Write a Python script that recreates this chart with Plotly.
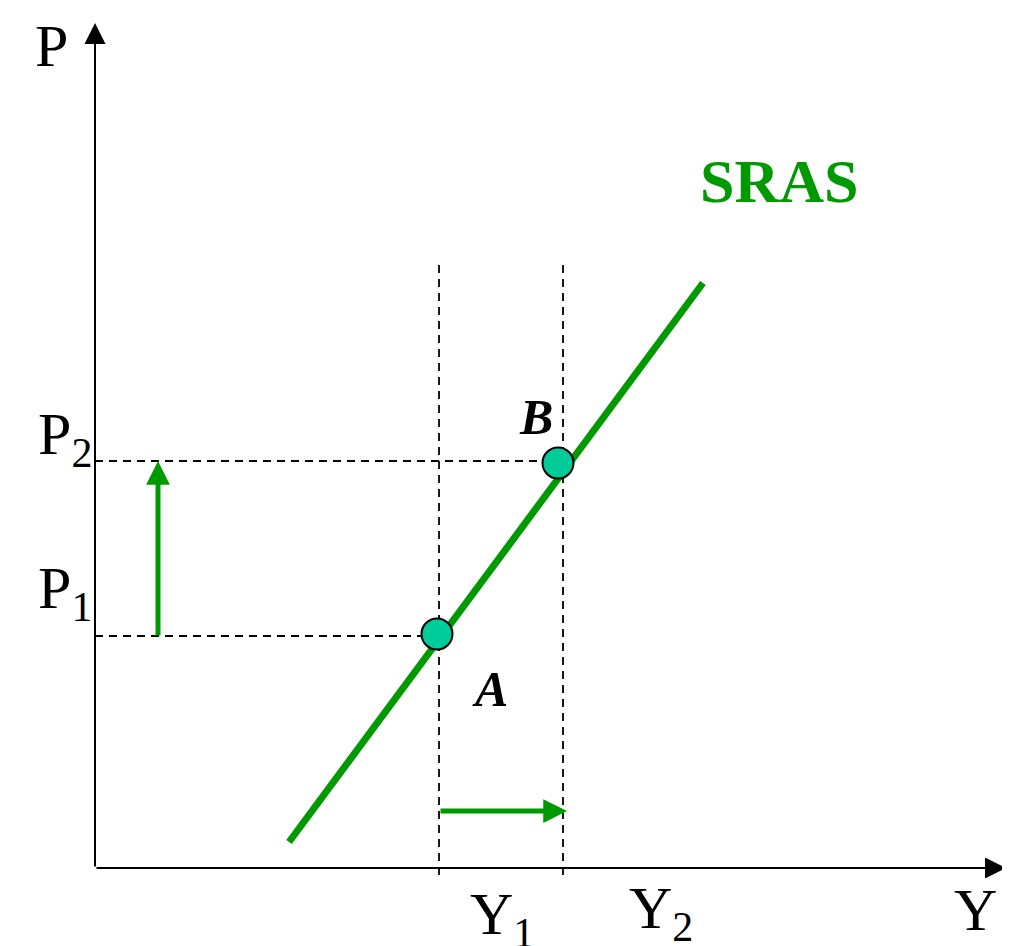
import plotly.graph_objects as go

# values in chart units (origin = where the axes meet)
y_levels = [3.44, 4.68]          # Y1, Y2
p_levels = [2.32, 4.07]          # P1, P2
point_x = [3.42, 4.63]           # A, B
point_y = [2.34, 4.05]
point_names = ["A", "B"]
sras_x = [1.94, 6.08]
sras_y = [0.26, 5.85]
guide_top = 6.08
guide_bottom = -0.07
shift_p = [2.31, 4.07]           # arrow from P1 up to P2
shift_p_x = 0.63
shift_y = [3.44, 4.72]           # arrow from Y1 to Y2
shift_y_level = 0.57
x_axis_end = 9.11
y_axis_end = 8.45

GREEN = "#009900"
DOT = "#00CC99"
SERIF = "Liberation Serif, Times New Roman, serif"

fig = go.Figure()

# dashed guides
for x in y_levels:
    fig.add_trace(go.Scatter(x=[x, x], y=[guide_bottom, guide_top], mode="lines",
                             line=dict(color="black", width=1.8, dash="8px,6px"), hoverinfo="skip"))
for px, py in zip(point_x, p_levels):
    fig.add_trace(go.Scatter(x=[0, px], y=[py, py], mode="lines",
                             line=dict(color="black", width=1.8, dash="8px,6px"), hoverinfo="skip"))

# SRAS curve
fig.add_trace(go.Scatter(x=sras_x, y=sras_y, mode="lines",
                         line=dict(color=GREEN, width=7), hoverinfo="skip"))

# equilibrium points
fig.add_trace(go.Scatter(x=point_x, y=point_y, mode="markers",
                         marker=dict(size=31, color=DOT, line=dict(color="black", width=2)),
                         hoverinfo="skip"))

# axes with arrow heads
fig.add_annotation(x=x_axis_end, y=0, ax=0, ay=0, xref="x", yref="y", axref="x", ayref="y",
                   showarrow=True, arrowhead=2, arrowwidth=2, arrowsize=2.1, arrowcolor="black", text="")
fig.add_annotation(x=0, y=y_axis_end, ax=0, ay=0, xref="x", yref="y", axref="x", ayref="y",
                   showarrow=True, arrowhead=2, arrowwidth=2, arrowsize=2.1, arrowcolor="black", text="")

# green shift arrows
fig.add_annotation(x=shift_p_x, y=shift_p[1], ax=shift_p_x, ay=shift_p[0], xref="x", yref="y",
                   axref="x", ayref="y", showarrow=True, arrowhead=2, arrowwidth=5, arrowsize=0.95,
                   arrowcolor=GREEN, text="")
fig.add_annotation(x=shift_y[1], y=shift_y_level, ax=shift_y[0], ay=shift_y_level, xref="x", yref="y",
                   axref="x", ayref="y", showarrow=True, arrowhead=2, arrowwidth=5, arrowsize=0.95,
                   arrowcolor=GREEN, text="")

# labels
def label(x, y, text, size=60, color="black"):
    fig.add_annotation(x=x, y=y, xref="x", yref="y", text=text, showarrow=False,
                       font=dict(family=SERIF, size=size, color=color))

label(-0.44, 8.22, "P")
label(-0.30, 4.30, "P<sub>2</sub>")
label(-0.30, 2.76, "P<sub>1</sub>")
label(4.07, -0.50, "Y<sub>1</sub>")
label(5.66, -0.44, "Y<sub>2</sub>")
label(8.80, -0.42, "Y")
label(6.84, 6.87, "<b>SRAS</b>", size=62, color=GREEN)
for px, py, name, dx, dy in zip(point_x, point_y, point_names, [0.53, -0.22], [-0.55, 0.46]):
    label(px + dx, py + dy, "<b><i>" + name + "</i></b>", size=50)

# the page adds an 8px body margin, so the figure is 8px smaller than the window
fig.update_layout(
    width=1002, height=938,
    margin=dict(l=0, r=0, t=0, b=0),
    paper_bgcolor="white", plot_bgcolor="white",
    showlegend=False,
    xaxis=dict(range=[-0.87, 9.15], visible=False, fixedrange=True),
    yaxis=dict(range=[-0.78, 8.60], visible=False, fixedrange=True),
)

fig.write_html("out.html")
